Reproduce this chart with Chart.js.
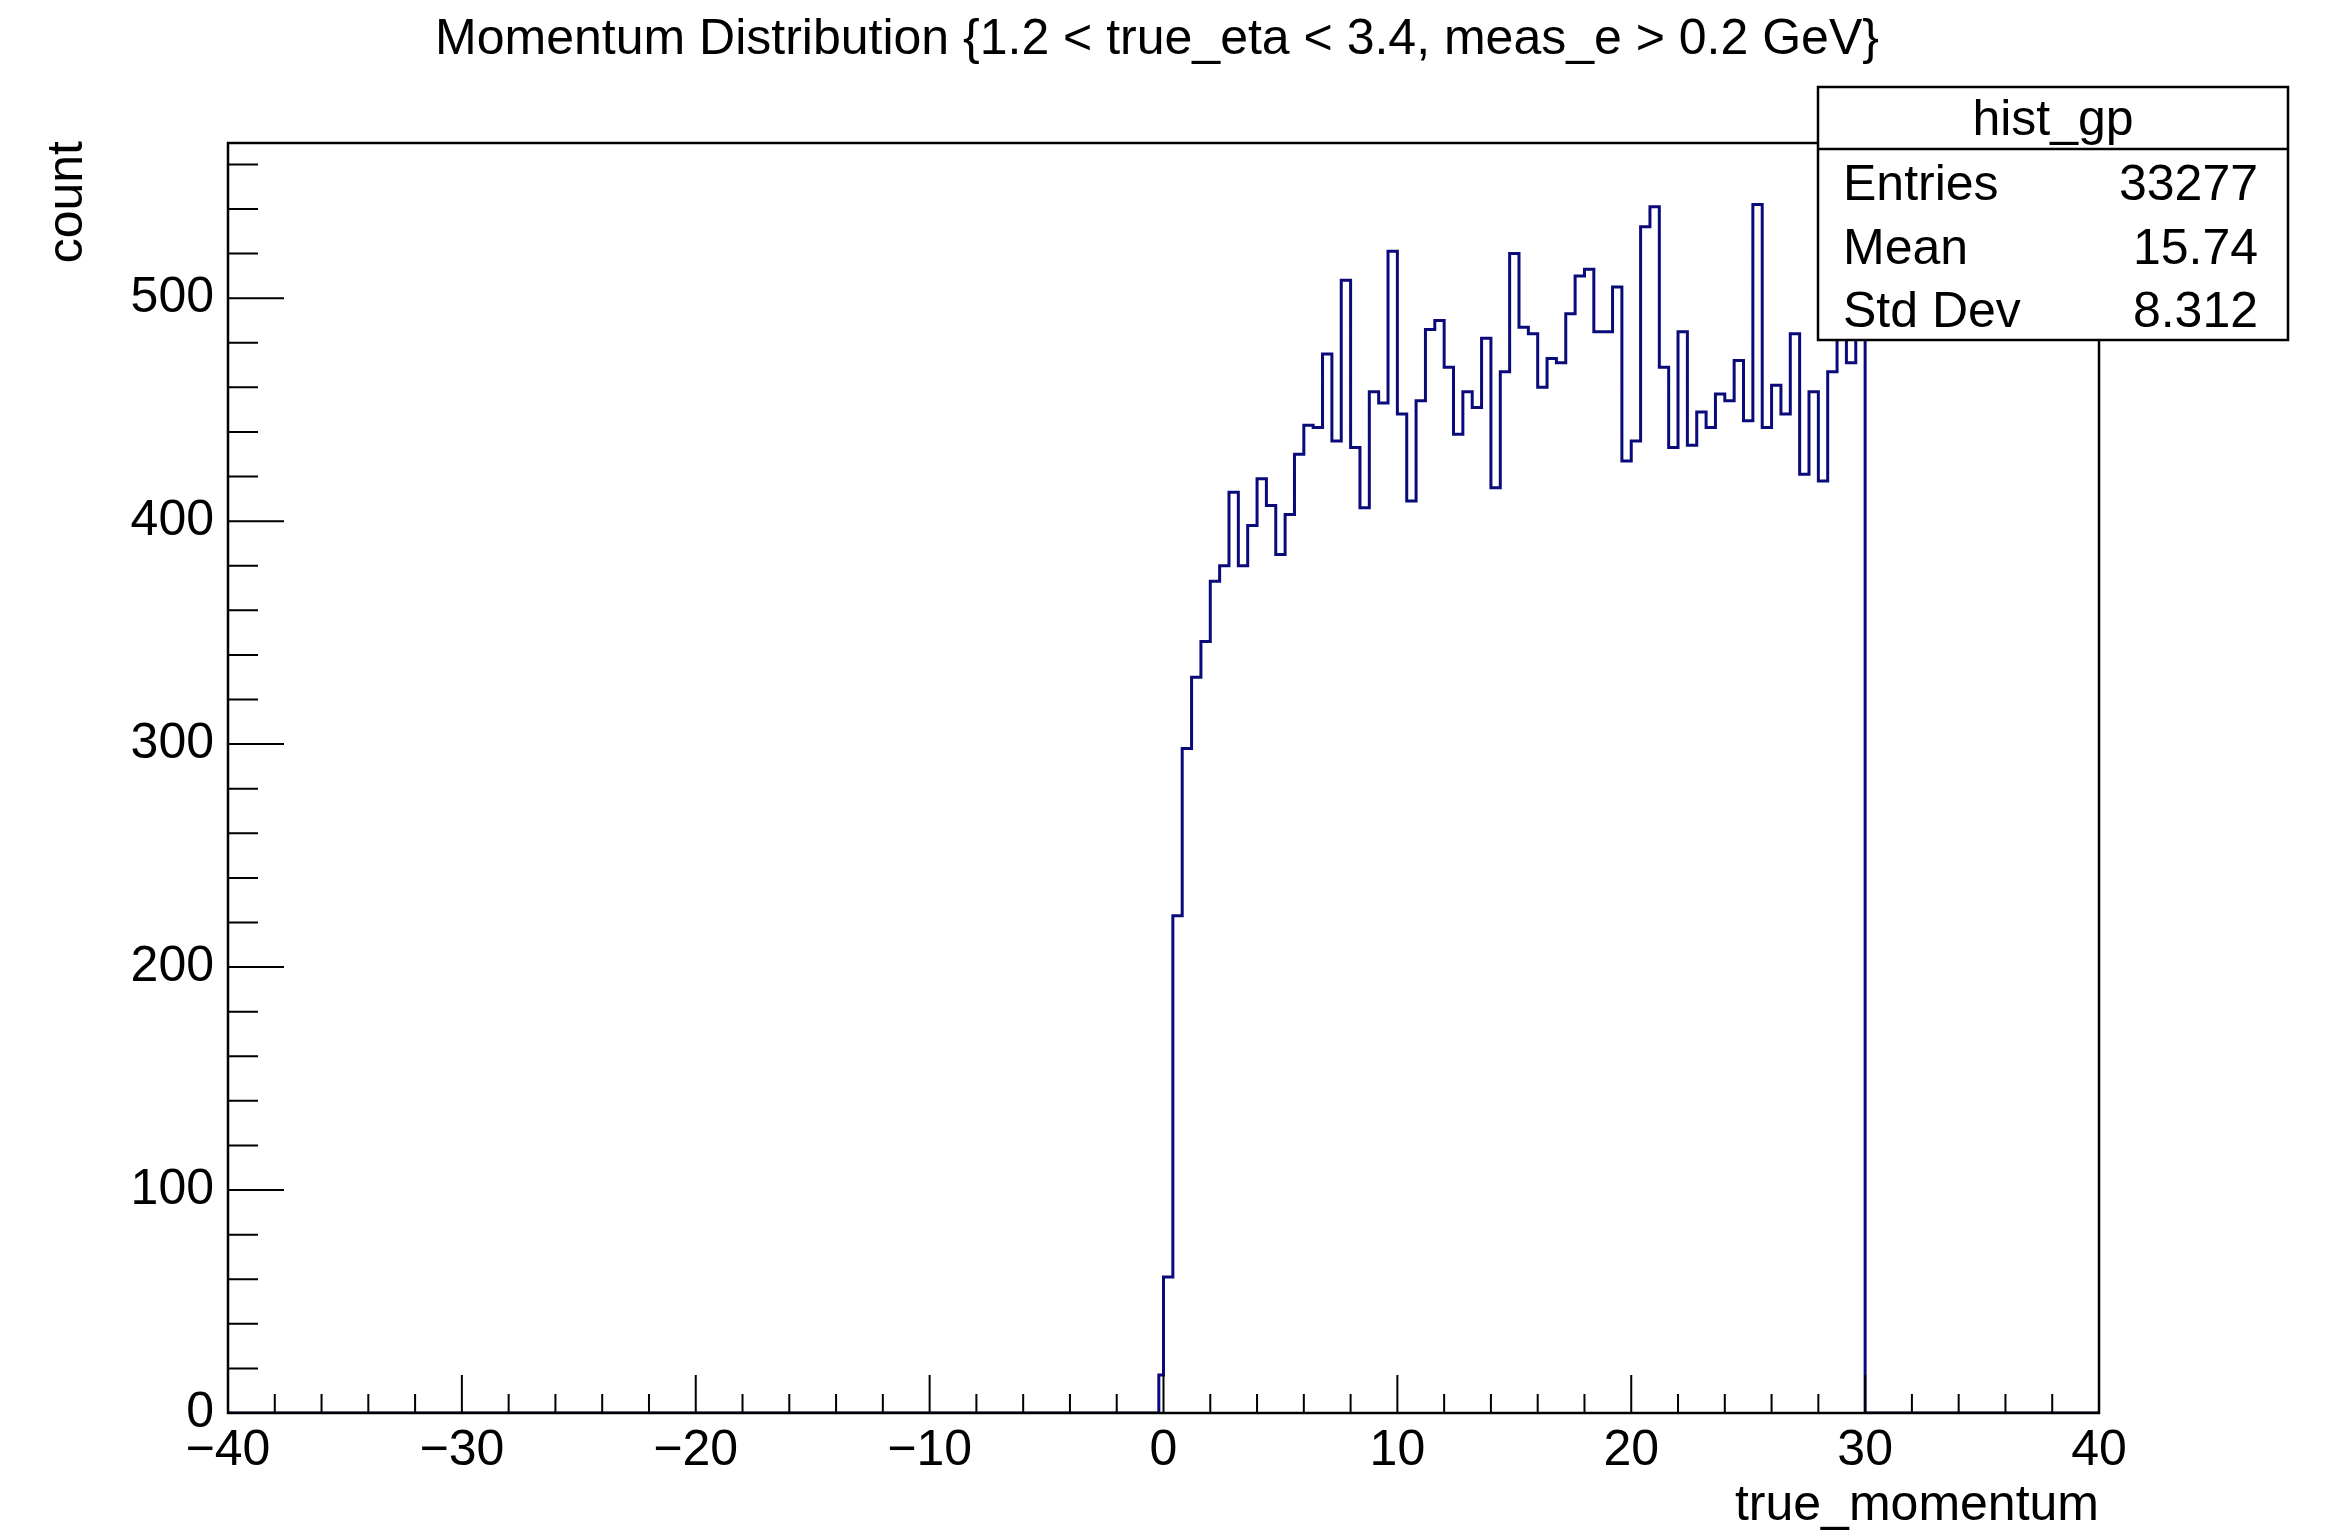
<!DOCTYPE html>
<html>
<head>
<meta charset="utf-8">
<script src="https://cdn.jsdelivr.net/npm/chart.js@4/dist/chart.umd.min.js"></script>
<style>
  html, body { margin: 0; padding: 0; background: #fff; }
  #wrap { width: 2334px; height: 1533px; }
</style>
</head>
<body>
<div id="wrap"><canvas id="hist" width="2334" height="1533"></canvas></div>
<script>
// hist_gp: 0.4-wide bins starting at 0
const binStart = 0;
const binWidth = 0.4;
const binCounts = [
    61, 223, 298, 330, 346, 373, 380, 413, 380, 398,
    419, 407, 385, 403, 430, 443, 442, 475, 436, 508,
    433, 406, 458, 453, 521, 448, 409, 454, 486, 490,
    469, 439, 458, 451, 482, 415, 467, 520, 487, 484,
    460, 473, 471, 493, 510, 513, 485, 485, 505, 427,
    436, 532, 541, 469, 433, 485, 434, 449, 442, 457,
    454, 472, 445, 542, 442, 461, 448, 484, 421, 458,
    418, 467, 490, 471, 498,
];
// tiny sliver just left of zero
const leadEdge = -0.2;
const leadCount = 17;

const xRange = [-40, 40];
const yRange = [0, 569.6];
const xTicks = [-40, -30, -20, -10, 0, 10, 20, 30, 40];
const yTicks = [0, 100, 200, 300, 400, 500];
const xMinorStep = 2;
const yMinorStep = 20;

const title = 'Momentum Distribution {1.2 < true_eta < 3.4, meas_e > 0.2 GeV}';
const xTitle = 'true_momentum';
const yTitle = 'count';
const statsName = 'hist_gp';
const statsLabels = ['Entries', 'Mean', 'Std Dev'];
const statsValues = ['33277', '15.74', '8.312'];

const FONT = '"Liberation Sans", Arial, Helvetica, sans-serif';
const LINE = '#0a0a7a';

// step outline points: left edge of each bin carries that bin's count
const points = [{ x: xRange[0], y: 0 }, { x: leadEdge, y: leadCount }];
binCounts.forEach((c, i) => points.push({ x: binStart + i * binWidth, y: c }));
points.push({ x: binStart + binCounts.length * binWidth, y: 0 });
points.push({ x: xRange[1], y: 0 });

function fmt(v) {
    return v < 0 ? '\u2212' + Math.abs(v) : String(v);
}

// ROOT-style frame: inward ticks, labels, titles, stats box
const rootFrame = {
    id: 'rootFrame',
    afterDraw(chart) {
        const { ctx, chartArea: a, scales: { x, y } } = chart;
        ctx.save();
        ctx.strokeStyle = '#000';
        ctx.fillStyle = '#000';

        ctx.lineWidth = 2;
        ctx.beginPath();
        for (let v = xRange[0]; v <= xRange[1]; v += xMinorStep) {
            const px = x.getPixelForValue(v);
            const len = xTicks.includes(v) ? 38 : 19;
            ctx.moveTo(px, a.bottom);
            ctx.lineTo(px, a.bottom - len);
        }
        for (let v = yRange[0]; v <= yRange[1]; v += yMinorStep) {
            const py = y.getPixelForValue(v);
            const len = yTicks.includes(v) ? 56 : 30;
            ctx.moveTo(a.left, py);
            ctx.lineTo(a.left + len, py);
        }
        ctx.stroke();

        ctx.lineWidth = 2.5;
        ctx.strokeRect(a.left, a.top, a.right - a.left, a.bottom - a.top);

        ctx.font = '50px ' + FONT;
        ctx.textAlign = 'center';
        ctx.textBaseline = 'middle';
        xTicks.forEach(v => ctx.fillText(fmt(v), x.getPixelForValue(v), a.bottom + 38));
        ctx.textAlign = 'right';
        yTicks.forEach(v => ctx.fillText(fmt(v), a.left - 14, y.getPixelForValue(v)));

        ctx.textBaseline = 'alphabetic';
        ctx.fillText(xTitle, a.right, a.bottom + 107);
        ctx.save();
        ctx.translate(82, a.top - 2);
        ctx.rotate(-Math.PI / 2);
        ctx.textAlign = 'right';
        ctx.fillText(yTitle, 0, 0);
        ctx.restore();

        ctx.textAlign = 'center';
        ctx.textBaseline = 'middle';
        ctx.fillText(title, 1157, 40);

        // stats box
        const bx = 1818, by = 87, bw = 470, bh = 253, head = 62;
        ctx.fillStyle = '#fff';
        ctx.fillRect(bx, by, bw, bh);
        ctx.strokeRect(bx, by, bw, bh);
        ctx.beginPath();
        ctx.moveTo(bx, by + head);
        ctx.lineTo(bx + bw, by + head);
        ctx.stroke();
        ctx.fillStyle = '#000';
        ctx.textBaseline = 'alphabetic';
        ctx.fillText(statsName, bx + bw / 2, 135);
        const rowBase = [200, 264, 327];
        statsLabels.forEach((lab, i) => {
            ctx.textAlign = 'left';
            ctx.fillText(lab, bx + 25, rowBase[i]);
            ctx.textAlign = 'right';
            ctx.fillText(statsValues[i], bx + bw - 30, rowBase[i]);
        });
        ctx.restore();
    },
};

new Chart(document.getElementById('hist'), {
    type: 'line',
    data: {
        datasets: [{
            data: points,
            stepped: true,
            borderColor: LINE,
            borderWidth: 3,
            pointRadius: 0,
            fill: false,
        }],
    },
    options: {
        responsive: false,
        animation: false,
        devicePixelRatio: 1,
        layout: { padding: { left: 228, top: 143, right: 235, bottom: 120 } },
        plugins: { legend: { display: false }, tooltip: { enabled: false } },
        scales: {
            x: { type: 'linear', min: xRange[0], max: xRange[1], display: false },
            y: { type: 'linear', min: yRange[0], max: yRange[1], display: false },
        },
    },
    plugins: [rootFrame],
});
</script>
</body>
</html>
